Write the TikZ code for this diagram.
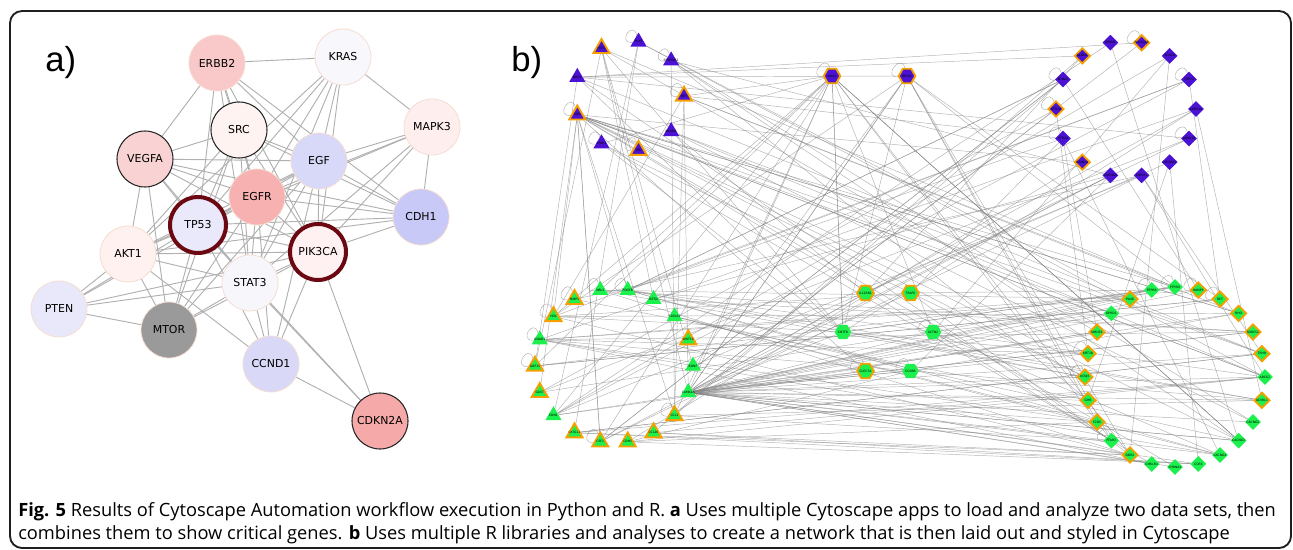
\documentclass[tikz,border=0pt]{standalone}
\usepackage{fontspec}
\setmainfont{Open Sans}
\newfontfamily\genefont{DejaVu Sans}
\newfontfamily\panelfont{Liberation Sans}
\newfontfamily\capfont{Open Sans}
\usepackage{tikz}
\usetikzlibrary{shapes.geometric}
\usetikzlibrary{backgrounds}

\definecolor{linkgray}{HTML}{B0B0B0}
\definecolor{hitred}{HTML}{6B0812}
\definecolor{rimpeach}{HTML}{F5DDD2}
\definecolor{netviolet}{HTML}{4B12D3}
\definecolor{netgreen}{HTML}{1CF04C}
\definecolor{netorange}{HTML}{F5A000}
\definecolor{fERBB2}{HTML}{F9C8C8}
\definecolor{fKRAS}{HTML}{F8F7FB}
\definecolor{fSRC}{HTML}{FFF3F1}
\definecolor{fVEGFA}{HTML}{F9D3D3}
\definecolor{fEGF}{HTML}{D8D8F8}
\definecolor{fMAPK3}{HTML}{FFEEEE}
\definecolor{fEGFR}{HTML}{F7B1B1}
\definecolor{fTP53}{HTML}{E9E9FB}
\definecolor{fCDH1}{HTML}{C9C9F7}
\definecolor{fPIK3CA}{HTML}{FFF1F1}
\definecolor{fAKT1}{HTML}{FFF1EF}
\definecolor{fSTAT3}{HTML}{F7F7FB}
\definecolor{fPTEN}{HTML}{E8E8FA}
\definecolor{fMTOR}{HTML}{9A9A9A}
\definecolor{fCCND1}{HTML}{D9D9F7}
\definecolor{fCDKN2A}{HTML}{F6A9A9}

\tikzset{
    gene/.style={circle, minimum size=42pt, inner sep=0pt, draw=rimpeach,
        line width=0.6pt, font=\genefont\fontsize{8.2}{9}\selectfont},
    gsoft/.style={},
    gring/.style={draw=black!85, line width=0.8pt},
    ghit/.style={draw=hitred, line width=3pt},
    link/.style={draw=linkgray, line width=0.7pt},
    wire/.style={draw=black!50, line width=0.35pt, opacity=0.6},
    tiny/.style={inner sep=0pt, font=\genefont\fontsize{2.3}{2.5}\selectfont},
    gtri/.style={tiny, regular polygon, regular polygon sides=3,
        minimum size=14pt, fill=#1},
    gdia/.style={tiny, diamond, minimum size=12pt, fill=#1},
    ghex/.style={tiny, regular polygon, regular polygon sides=6,
        minimum size=12.5pt, fill=#1},
    rim/.style={draw=netorange, line width=1.4pt},
    bare/.style={}
}

\newcommand\ownloop[1]{%
    \begin{pgfonlayer}{background}
        \draw[wire] (#1) to[out=185, in=105, min distance=12pt] (#1);
    \end{pgfonlayer}}

\begin{document}
\begin{tikzpicture}[x=0.75pt, y=-0.75pt]
    \useasboundingbox (0,0) rectangle (1293,550);
    \draw[line width=1.4pt, draw=black!88, rounded corners=9pt] (10,11) rectangle (1291,548);

    \node[anchor=base west, inner sep=0pt, font=\panelfont\fontsize{26}{26}\selectfont] (pa) at (45,71) {a)};
    \node[anchor=base west, inner sep=0pt, font=\panelfont\fontsize{26}{26}\selectfont] (pb) at (511,71) {b)};

    % a) genes
    \foreach \n/\x/\y/\s in {ERBB2/217/63/gsoft, KRAS/343/57/gsoft, SRC/239/130/gring,
        VEGFA/145/159/gring, EGF/319/161/gsoft, MAPK3/432/127/gsoft, EGFR/257/197/gsoft,
        TP53/198/225/ghit, CDH1/421/217/gsoft, PIK3CA/318/252/ghit, AKT1/128/254/gsoft,
        STAT3/250/283/gsoft, PTEN/59/309/gsoft, MTOR/169/330/gsoft, CCND1/271/364/gsoft,
        CDKN2A/380/421/gring}
        \node[gene, \s, fill=f\n] (\n) at (\x,\y) {\n};

    % b) upper left
    \foreach \ang/\rs/\lp/\g [count=\i] in {120/rim/0/FGF2, 80/bare/1/PLAT, 40/bare/1/SERPINE2,
        0/rim/1/MET, -40/bare/0/NCAM1, -80/rim/1/TEK, -120/bare/1/LPAR1, -160/rim/1/KDR, 160/bare/0/NRG1}
    {
        \node[gtri=netviolet, \rs] (ua\i) at ({629+55*cos(\ang)}, {96-55*sin(\ang)}) {\makebox[0pt]{\g}};
        \ifnum\lp=1 \ownloop{ua\i}\fi
    }
    \node[ghex=netviolet, rim] (uh1) at (832,76) {\makebox[0pt]{IRAK3}};
    \node[ghex=netviolet, rim] (uh2) at (907,76) {\makebox[0pt]{HESX1}};
    \ownloop{uh1}
    \ownloop{uh2}

    % b) upper right
    \foreach \ang/\rs/\lp/\g [count=\i] in {102.9/bare/0/OPRM1, 77.1/rim/1/PLA2G1B, 51.4/bare/0/SCN5A,
        25.7/bare/1/TRPV1, 0/bare/0/ADRA1A, -25.7/bare/1/ADRA1B, -51.4/bare/0/CACNA1C,
        -77.1/bare/0/CHRM1, -102.9/bare/0/CHRNA4, -128.6/rim/0/GRIN2A, -154.3/bare/1/HTR2A,
        180/rim/1/HTR2B, 154.3/bare/1/KCNA1, 128.6/rim/0/KCNH2}
    {
        \node[gdia=netviolet, \rs] (ud\i) at ({1126+70*cos(\ang)}, {109-68*sin(\ang)}) {\makebox[0pt]{\g}};
        \ifnum\lp=1 \ownloop{ud\i}\fi
    }

    % b) lower left
    \foreach \ang/\rs/\lp/\g [count=\i] in {0/bare/0/BDNF, -20/bare/0/CAMK2A, -40/rim/1/CCL1,
        -60/rim/0/CCL20, -80/rim/0/CDH5, -100/rim/1/CSF1, -120/rim/0/CX3CL1, -140/bare/0/EDN1,
        -160/rim/0/GAST, 180/rim/1/GDF15, 160/bare/1/GNAO1, 140/rim/1/HCK, 120/rim/1/MMP1,
        100/bare/1/NBL1, 80/bare/1/PDGFB, 60/bare/0/RETN, 40/bare/0/S100A1, 20/rim/0/WNT16}
    {
        \node[gtri=netgreen, \rs] (lt\i) at ({614+79*cos(\ang)}, {366-77*sin(\ang)}) {\makebox[0pt]{\g}};
        \ifnum\lp=1 \ownloop{lt\i}\fi
    }

    % b) middle
    \foreach \ang/\rs/\lp/\g [count=\i] in {120/rim/0/IL12RB1, 60/rim/0/TRAF6, 180/bare/0/CNTFR,
        0/bare/1/ACTN2, -120/rim/1/CLEC7A, -60/bare/1/CCKBR}
    {
        \node[ghex=netgreen, \rs] (lh\i) at ({888+45*cos(\ang)}, {332-45*sin(\ang)}) {\makebox[0pt]{\g}};
        \ifnum\lp=1 \ownloop{lh\i}\fi
    }

    % b) lower right
    \foreach \ang/\rs/\lp/\g [count=\i] in {90/bare/1/PTPRO, 75/rim/1/RAMP3, 60/rim/1/RET,
        45/rim/0/RHO, 30/rim/0/SORCS2, 15/rim/0/TRHR, 0/bare/0/ABCG2, -15/rim/0/ACVRL1,
        -30/bare/0/CACNG2, -45/bare/0/CACNG3, -60/bare/0/CACNG4, -75/bare/0/CCR6,
        -90/bare/0/CHRNA1, -105/bare/0/CMKLR1, -120/rim/0/DDR2, -135/bare/1/FFAR3,
        -150/rim/0/FZD5, -165/rim/0/GHR, 180/rim/1/KCNJ5, 165/rim/1/KRT18, 150/rim/0/NMUR1,
        135/bare/0/OPRD1, 120/rim/0/PAX8, 105/bare/1/PTPRB}
    {
        \node[gdia=netgreen, \rs] (ld\i) at ({1175+90*cos(\ang)}, {377-90*sin(\ang)}) {\makebox[0pt]{\g}};
        \ifnum\lp=1 \ownloop{ld\i}\fi
    }

    \begin{scope}[on background layer]
        \foreach \u/\v in {ERBB2/KRAS, ERBB2/VEGFA, ERBB2/TP53, ERBB2/SRC, ERBB2/EGFR, ERBB2/STAT3,
            ERBB2/EGF, ERBB2/PIK3CA, ERBB2/CDH1, KRAS/MAPK3, KRAS/EGF, KRAS/EGFR, KRAS/PIK3CA,
            KRAS/AKT1, KRAS/TP53, KRAS/STAT3, SRC/VEGFA, SRC/EGF, SRC/EGFR, SRC/STAT3, SRC/TP53,
            SRC/CDH1, SRC/PIK3CA, SRC/AKT1, SRC/MTOR, VEGFA/EGF, VEGFA/EGFR, VEGFA/AKT1,
            VEGFA/MTOR, VEGFA/TP53, VEGFA/STAT3, VEGFA/PIK3CA, VEGFA/CDH1, EGF/MAPK3, EGF/EGFR,
            EGF/CDH1, EGF/PIK3CA, EGF/STAT3, EGF/TP53, EGF/AKT1, EGF/MTOR, EGF/CCND1,
            MAPK3/CDH1, MAPK3/PIK3CA, MAPK3/STAT3, MAPK3/EGFR, MAPK3/TP53, EGFR/CDH1,
            EGFR/PIK3CA, EGFR/STAT3, EGFR/TP53, EGFR/AKT1, EGFR/MTOR, EGFR/CCND1, EGFR/PTEN,
            TP53/CDH1, TP53/AKT1, TP53/STAT3, TP53/MTOR, TP53/PTEN, TP53/CCND1, TP53/PIK3CA,
            TP53/CDKN2A, CDH1/PIK3CA, CDH1/AKT1, PIK3CA/AKT1, PIK3CA/STAT3, PIK3CA/MTOR,
            PIK3CA/CCND1, PIK3CA/CDKN2A, PIK3CA/PTEN, AKT1/PTEN, AKT1/MTOR, AKT1/STAT3,
            AKT1/CCND1, STAT3/CCND1, STAT3/MTOR, STAT3/CDKN2A, STAT3/PTEN, PTEN/MTOR,
            CCND1/CDKN2A}
            \draw[link] (\u) -- (\v);

        \foreach \q in {1,...,24}
            \draw[wire] (lt2) -- (ld\q);
        \foreach \q in {1,...,6}
            \draw[wire] (lt2) -- (lh\q);
        \foreach \q in {2,5,9,12}
            \draw[wire] (lt2) -- (ud\q);
        \draw[wire] (lt2) -- (uh1);
        \draw[wire] (lt2) -- (uh2);
        \foreach \q in {2,5,8,11,14,17,20,23}
            \draw[wire] (lt11) -- (ld\q);
        \foreach \q in {1,4,7,10,13,16,19,22}
            \draw[wire] (ua8) -- (ld\q);
        \foreach \q in {3,6,9,12,15}
            \draw[wire] (ua8) -- (lt\q);

        \pgfmathsetseed{11}
        \foreach \src/\ns/\dst/\nd/\cnt in {ua/9/ld/24/20, ua/9/lt/18/12, ua/9/lh/6/5, ua/9/ud/14/6,
            ua/9/uh/2/3, uh/2/lt/18/9, uh/2/ld/24/10, uh/2/lh/6/4, ud/14/lt/18/22, ud/14/ld/24/12,
            ud/14/lh/6/6, lt/18/ld/24/34, lh/6/ld/24/10, lh/6/lt/18/6}
        {
            \foreach \k in {1,...,\cnt}
            {
                \pgfmathrandominteger{\p}{1}{\ns}
                \pgfmathrandominteger{\q}{1}{\nd}
                \draw[wire] (\src\p) -- (\dst\q);
            }
        }
    \end{scope}

    \node[anchor=base west, inner sep=0pt, font=\capfont\fontsize{13.7}{16}\selectfont] (capone) at (18,516)
        {\textbf{Fig. 5} Results of Cytoscape Automation workflow execution in Python and R. \textbf{a} Uses multiple Cytoscape apps to load and analyze two data sets, then};
    \node[anchor=base west, inner sep=0pt, font=\capfont\fontsize{13.7}{16}\selectfont] (captwo) at (18,539)
        {combines them to show critical genes. \textbf{b} Uses multiple R libraries and analyses to create a network that is then laid out and styled in Cytoscape};
\end{tikzpicture}
\end{document}
